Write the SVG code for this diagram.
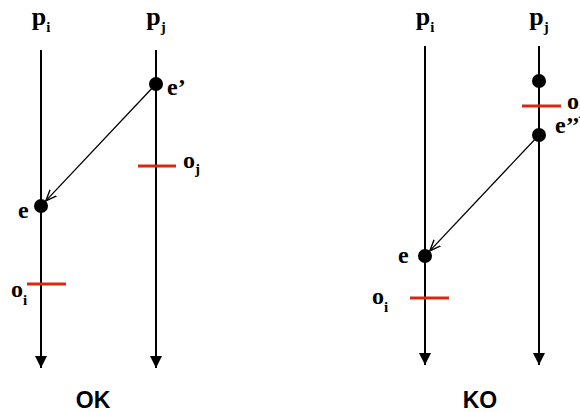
<svg xmlns="http://www.w3.org/2000/svg" width="580" height="412" viewBox="0 0 580 412">
<style>
.proc{stroke:#000;stroke-width:2;fill:none}
.obs{stroke:#d8290e;stroke-width:3}
.dot{fill:#000}
.lbl{font-family:"Liberation Serif","Times New Roman",serif;font-weight:bold;font-size:24px;fill:#000}
.plbl{font-family:"Liberation Serif","Times New Roman",serif;font-weight:bold;font-size:26px;fill:#000}
.sub{font-size:15px}
.title{font-family:"Liberation Sans",Arial,sans-serif;font-weight:bold;font-size:23px;fill:#000}
.msg{stroke:#000;stroke-width:1.3;fill:none}
</style>
<defs>
<marker id="end" markerWidth="14" markerHeight="14" refX="12" refY="6" orient="auto" markerUnits="userSpaceOnUse">
<path d="M0,0 L12,6 L0,12 Z" fill="#000"/>
</marker>
<marker id="vee" markerWidth="14" markerHeight="12" refX="11" refY="5" orient="auto" markerUnits="userSpaceOnUse">
<path d="M0,0.5 L11,5 L0,9.5" fill="none" stroke="#000" stroke-width="1.4"/>
</marker>
</defs>
<g id="left">
<g id="pi-left">
<line class="proc" x1="41" y1="50" x2="41" y2="368" marker-end="url(#end)"/>
<text class="plbl" x="41" y="25" text-anchor="middle">p<tspan class="sub" dy="7">i</tspan></text>
</g>
<g id="pj-left">
<line class="proc" x1="156" y1="50" x2="156" y2="368" marker-end="url(#end)"/>
<text class="plbl" x="156" y="25" text-anchor="middle">p<tspan class="sub" dy="7">j</tspan></text>
</g>
<g id="e-prime-left">
<circle class="dot" cx="156" cy="84" r="7"/>
<text class="lbl" x="167" y="95">e’</text>
</g>
<g id="oj-left">
<line class="obs" x1="138" y1="166" x2="176" y2="166"/>
<text class="lbl" x="183" y="168">o<tspan class="sub" dy="6">j</tspan></text>
</g>
<g id="e-left">
<circle class="dot" cx="41" cy="206" r="7"/>
<text class="lbl" x="18" y="218">e</text>
</g>
<g id="oi-left">
<line class="obs" x1="27" y1="284" x2="66" y2="284"/>
<text class="lbl" x="11" y="297">o<tspan class="sub" dy="8">i</tspan></text>
</g>
<text id="ok" class="title" x="93" y="408" text-anchor="middle">OK</text>
</g>
<g id="right">
<g id="pi-right">
<line class="proc" x1="425" y1="46" x2="425" y2="365" marker-end="url(#end)"/>
<text class="plbl" x="425" y="25" text-anchor="middle">p<tspan class="sub" dy="7">i</tspan></text>
</g>
<g id="pj-right">
<line class="proc" x1="539" y1="46" x2="539" y2="365" marker-end="url(#end)"/>
<text class="plbl" x="539" y="25" text-anchor="middle">p<tspan class="sub" dy="7">j</tspan></text>
</g>
<g id="ev-right">
<circle class="dot" cx="539" cy="81" r="7"/>
</g>
<g id="oj-right">
<line class="obs" x1="522" y1="106" x2="561" y2="106"/>
<text class="lbl" x="567" y="109">o<tspan class="sub" dy="6">j</tspan></text>
</g>
<g id="e-dprime-right">
<circle class="dot" cx="539" cy="135" r="7"/>
<text class="lbl" x="555" y="133">e’’</text>
</g>
<g id="e-right">
<circle class="dot" cx="425" cy="256" r="7"/>
<text class="lbl" x="398" y="263">e</text>
</g>
<g id="oi-right">
<line class="obs" x1="410" y1="298" x2="449" y2="298"/>
<text class="lbl" x="372" y="304">o<tspan class="sub" dy="8">i</tspan></text>
</g>
<text id="ko" class="title" x="480" y="408" text-anchor="middle">KO</text>
</g>
<g id="connectors">
<line class="msg" x1="156" y1="84" x2="45.8" y2="200.9" marker-end="url(#vee)"/>
<line class="msg" x1="539" y1="135" x2="429.8" y2="250.9" marker-end="url(#vee)"/>
</g>
</svg>
